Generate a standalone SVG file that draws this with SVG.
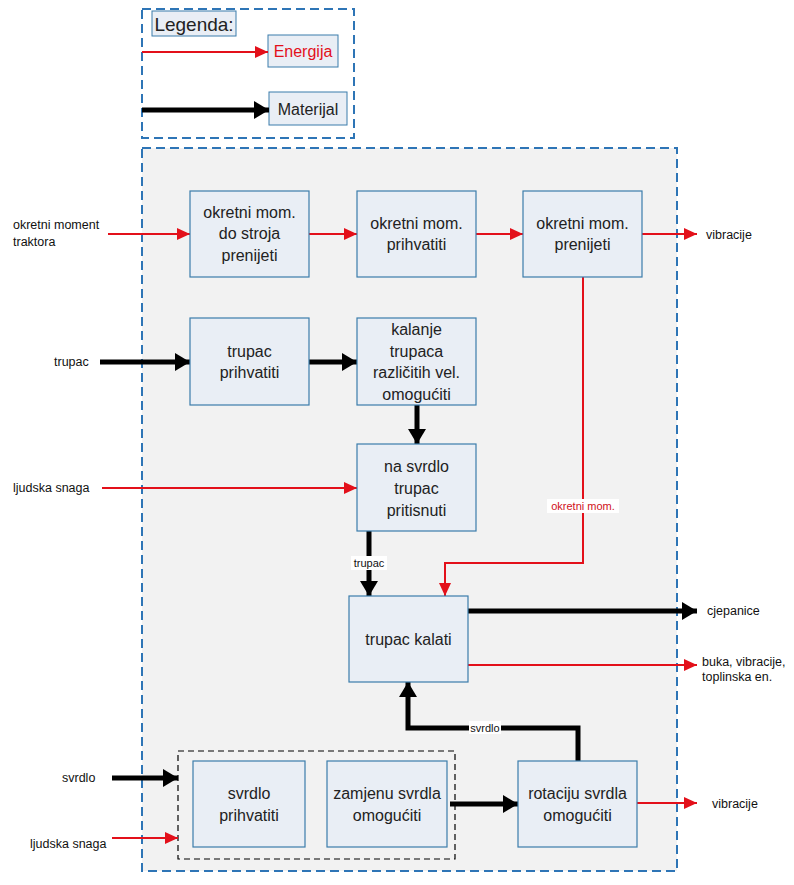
<svg xmlns="http://www.w3.org/2000/svg" width="794" height="885" viewBox="0 0 794 885">
<style>
.box{fill:#e9eef5;stroke:#3b7cab;stroke-width:1.2}
.t{font-family:"Liberation Sans",Arial,sans-serif;font-size:16px;fill:#222;text-anchor:middle}
.l{font-family:"Liberation Sans",Arial,sans-serif;font-size:12.5px;fill:#111}
.lr{font-family:"Liberation Sans",Arial,sans-serif;font-size:11px;fill:#d0101a;text-anchor:middle}
.lb{font-family:"Liberation Sans",Arial,sans-serif;font-size:11px;fill:#111;text-anchor:middle}
.red{stroke:#e3101a;stroke-width:2;fill:none}
.blk{stroke:#000;stroke-width:5;fill:none}
</style>
<defs>
<marker id="ar" markerUnits="userSpaceOnUse" markerWidth="14" markerHeight="12" refX="13" refY="6" orient="auto"><path d="M0,0 L13,6 L0,12 Z" fill="#e3101a"/></marker>
<marker id="ab" markerUnits="userSpaceOnUse" markerWidth="16" markerHeight="18" refX="15" refY="9" orient="auto"><path d="M0,0 L15,9 L0,18 Z" fill="#000"/></marker>
</defs>
<rect width="794" height="885" fill="#fff"/>
<g id="legend">
<rect x="142" y="9" width="212" height="129" fill="#fff" stroke="#2e75b6" stroke-width="2" stroke-dasharray="9,5"/>
<rect x="152" y="11" width="84" height="25" fill="#e9eef5" stroke="#3b7cab" stroke-width="1"/>
<text x="194" y="31" class="t" style="font-size:19px">Legenda:</text>
<rect x="268" y="35" width="70" height="32" fill="#e9eef5" stroke="#3b7cab" stroke-width="1"/>
<text x="303" y="57" class="t" style="font-size:16px;fill:#e3101a">Energija</text>
<rect x="269" y="92" width="78" height="33" fill="#e9eef5" stroke="#3b7cab" stroke-width="1"/>
<text x="308" y="115" class="t" style="font-size:16px">Materijal</text>
<line x1="142" y1="52" x2="268" y2="52" class="red" marker-end="url(#ar)"/>
<line x1="142" y1="110" x2="269" y2="110" class="blk" marker-end="url(#ab)"/>
</g>
<g id="system">
<rect x="142" y="148" width="535" height="723" fill="#f2f2f2" stroke="#2e75b6" stroke-width="2" stroke-dasharray="9,5"/>
<rect x="178" y="751" width="277" height="108" fill="none" stroke="#000" stroke-width="1.2" stroke-dasharray="6,4"/>
</g>
<g id="connectors">
<line x1="108" y1="234" x2="190" y2="234" class="red" marker-end="url(#ar)"/>
<line x1="309" y1="234" x2="357" y2="234" class="red" marker-end="url(#ar)"/>
<line x1="476" y1="234" x2="523" y2="234" class="red" marker-end="url(#ar)"/>
<line x1="642" y1="234" x2="697" y2="234" class="red" marker-end="url(#ar)"/>
<line x1="100" y1="362" x2="190" y2="362" class="blk" marker-end="url(#ab)"/>
<line x1="308" y1="362" x2="357" y2="362" class="blk" marker-end="url(#ab)"/>
<line x1="417" y1="405" x2="417" y2="444" class="blk" marker-end="url(#ab)"/>
<line x1="102" y1="488" x2="357" y2="488" class="red" marker-end="url(#ar)"/>
<polyline points="583,277 583,563 445,563 445,596" class="red" marker-end="url(#ar)"/>
<rect x="547" y="499" width="72" height="14" fill="#fff"/>
<text x="583" y="510" class="lr">okretni mom.</text>
<line x1="369" y1="531" x2="369" y2="596" class="blk" marker-end="url(#ab)"/>
<rect x="351" y="556" width="36" height="14" fill="#fff"/>
<text x="369" y="567" class="lb">trupac</text>
<line x1="468" y1="611" x2="697" y2="611" class="blk" marker-end="url(#ab)"/>
<line x1="468" y1="665" x2="697" y2="665" class="red" marker-end="url(#ar)"/>
<polyline points="578,761 578,728 408,728 408,682" class="blk" marker-end="url(#ab)"/>
<rect x="469" y="721" width="32" height="13" fill="#fff"/>
<text x="485" y="732" class="lb">svrdlo</text>
<line x1="112" y1="778" x2="178" y2="778" class="blk" marker-end="url(#ab)"/>
<line x1="112" y1="838" x2="178" y2="838" class="red" marker-end="url(#ar)"/>
<line x1="450" y1="804" x2="518" y2="804" class="blk" marker-end="url(#ab)"/>
<line x1="637" y1="803" x2="697" y2="803" class="red" stroke-width="1.5" marker-end="url(#ar)"/>
</g>
<g id="labels">
<text x="13" y="229" class="l">okretni moment</text>
<text x="13" y="246" class="l">traktora</text>
<text x="706" y="239" class="l">vibracije</text>
<text x="54" y="366" class="l">trupac</text>
<text x="13" y="492" class="l">ljudska snaga</text>
<text x="707" y="615" class="l">cjepanice</text>
<text x="702" y="666" class="l">buka, vibracije,</text>
<text x="702" y="681" class="l">toplinska en.</text>
<text x="62" y="782" class="l">svrdlo</text>
<text x="30" y="848" class="l">ljudska snaga</text>
<text x="712" y="808" class="l">vibracije</text>
</g>
<g id="n1"><rect x="190" y="191" width="119" height="86" class="box"/><text class="t"><tspan x="249.5" y="218">okretni mom.</tspan><tspan x="249.5" y="239">do stroja</tspan><tspan x="249.5" y="261">prenijeti</tspan></text></g>
<g id="n2"><rect x="357" y="191" width="119" height="86" class="box"/><text class="t"><tspan x="416.5" y="229">okretni mom.</tspan><tspan x="416.5" y="250">prihvatiti</tspan></text></g>
<g id="n3"><rect x="523" y="191" width="119" height="86" class="box"/><text class="t"><tspan x="582.5" y="229">okretni mom.</tspan><tspan x="582.5" y="250">prenijeti</tspan></text></g>
<g id="n4"><rect x="190" y="318" width="119" height="87" class="box"/><text class="t"><tspan x="249.5" y="357">trupac</tspan><tspan x="249.5" y="378">prihvatiti</tspan></text></g>
<g id="n5"><rect x="357" y="318" width="119" height="87" class="box"/><text class="t"><tspan x="416.5" y="335">kalanje</tspan><tspan x="416.5" y="357">trupaca</tspan><tspan x="416.5" y="378">različitih vel.</tspan><tspan x="416.5" y="400">omogućiti</tspan></text></g>
<g id="n6"><rect x="357" y="444" width="119" height="87" class="box"/><text class="t"><tspan x="416.5" y="472">na svrdlo</tspan><tspan x="416.5" y="494">trupac</tspan><tspan x="416.5" y="516">pritisnuti</tspan></text></g>
<g id="n7"><rect x="349" y="596" width="119" height="86" class="box"/><text class="t"><tspan x="408.5" y="645">trupac kalati</tspan></text></g>
<g id="n8"><rect x="193" y="761" width="112" height="86" class="box"/><text class="t"><tspan x="249" y="799">svrdlo</tspan><tspan x="249" y="821">prihvatiti</tspan></text></g>
<g id="n9"><rect x="327" y="761" width="120" height="86" class="box"/><text class="t"><tspan x="387" y="799">zamjenu svrdla</tspan><tspan x="387" y="821">omogućiti</tspan></text></g>
<g id="n10"><rect x="518" y="761" width="119" height="86" class="box"/><text class="t"><tspan x="577.5" y="799">rotaciju svrdla</tspan><tspan x="577.5" y="821">omogućiti</tspan></text></g>
</svg>
